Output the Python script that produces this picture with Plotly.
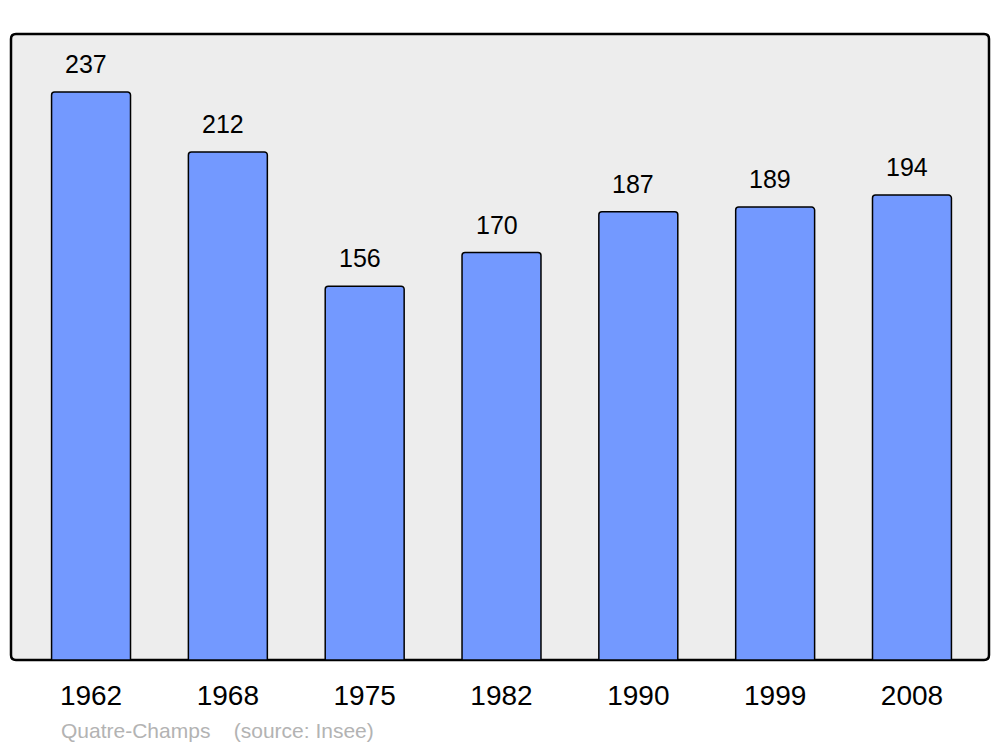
import plotly.graph_objects as go

years = ["1962", "1968", "1975", "1982", "1990", "1999", "2008"]
population = [237, 212, 156, 170, 187, 189, 194]
footer_text = "Quatre-Champs&nbsp;&nbsp;&nbsp;&nbsp;(source: Insee)"

W, H = 1000, 747
L, R, T, B = 11, 11, 34, 87
pw, ph = W - L - R, H - T - B

xs = list(range(len(years)))
FONT = "Liberation Sans, Arial, sans-serif"

fig = go.Figure()
fig.add_trace(go.Bar(
    x=xs, y=population, width=0.577,
    marker=dict(color="#7399ff", line=dict(color="#000000", width=1.5), cornerradius=3),
    hoverinfo="skip",
))

for x, v in zip(xs, population):
    fig.add_annotation(x=x, y=v, text=str(v), showarrow=False, yanchor="middle",
                       yshift=28, xshift=-5, font=dict(size=25, color="#000000", family=FONT))

# rounded frame
r = 5
rx, ry = r / pw, r / ph
path = (f"M {rx},0 L {1-rx},0 Q 1,0 1,{ry} L 1,{1-ry} Q 1,1 {1-rx},1 "
        f"L {rx},1 Q 0,1 0,{1-ry} L 0,{ry} Q 0,0 {rx},0 Z")
fig.add_shape(type="path", path=path, xref="paper", yref="paper",
              fillcolor="#ededed", line=dict(color="#000000", width=2.5), layer="below")

fig.add_annotation(x=48 / pw, xref="paper", y=-(730 - 660) / ph, yref="paper",
                   xanchor="left", yanchor="middle", showarrow=False,
                   text=footer_text,
                   font=dict(size=21, color="#b3b3b3", family=FONT))

fig.update_layout(
    width=W, height=H,
    margin=dict(l=L, r=R, t=T, b=B),
    paper_bgcolor="#ffffff", plot_bgcolor="rgba(0,0,0,0)",
    showlegend=False,
    font=dict(family=FONT, color="#000000"),
    xaxis=dict(range=[-0.585, 6.563], tickmode="array", tickvals=xs, ticktext=years,
               showgrid=False, zeroline=False, showline=False, ticks="",
               tickfont=dict(size=28), ticklabelstandoff=16, fixedrange=True),
    yaxis=dict(range=[0, 261.2], showgrid=False, zeroline=False, showline=False,
               showticklabels=False, ticks="", fixedrange=True),
)

fig.write_html("out.html", config={"displayModeBar": False},
               post_script="document.body.style.margin='0';document.body.style.overflow='hidden';")
